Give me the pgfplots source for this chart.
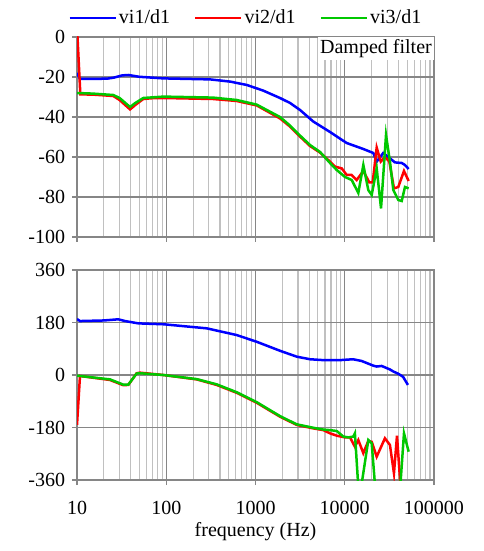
\documentclass[border=0pt]{standalone}
\usepackage{fontspec}
\setmainfont{Liberation Serif}
\usepackage{pgfplots}
\pgfplotsset{compat=1.18}
\definecolor{cblue}{RGB}{0,0,255}
\definecolor{cred}{RGB}{255,0,0}
\definecolor{cgreen}{RGB}{0,200,0}
\definecolor{gmaj}{RGB}{134,134,134}
\definecolor{gmin}{RGB}{192,192,192}
\begin{document}
\fontsize{20}{24}\selectfont
\begin{tikzpicture}
\path (0pt,0pt) rectangle (483pt,551pt);
% ---------------- top: magnitude ----------------
\begin{axis}[
  xmode=log, xmin=10, xmax=100000,
  scale only axis, width=357pt, height=200pt,
  at={(77pt,314pt)}, anchor=south west,
  grid=both,
  major grid style={gmaj, line width=1.2pt},
  minor grid style={gmin, line width=1.2pt},
  axis line style={gmaj, line width=1.2pt},
  tick style={gmaj, line width=1.2pt},
  tick align=outside, major tick length=5pt, minor tick length=0pt,
  xtick pos=bottom, ytick pos=left,
  xtick={10,100,1000,10000,100000},
  tick label style={font=\fontsize{20}{24}\selectfont, text=black},
  ymin=-100, ymax=0,
  ytick={-100,-80,-60,-40,-20,0},
  yticklabels={-100,-80,-60,-40,-20,0},
  xticklabels={},
  legend columns=3,
  legend style={at={(0.473,1.095)}, anchor=center, draw=none, fill=none,
    font=\fontsize{20}{24}\selectfont,
    /tikz/every even column/.append style={column sep=22pt}},
  legend image code/.code={\draw[#1] (0pt,0pt) -- (46pt,0pt);},
]
\addplot[cblue, line width=2.5pt] coordinates {
(10,-18) (10.8,-21) (15,-21) (22,-20.8) (26,-20.3) (32,-19.2) (37.6,-19)
(50,-19.9) (93,-20.7) (310,-21.2) (520,-22.3) (800,-24) (1220,-26.8)
(1880,-30.5) (2440,-33) (3155,-36.5) (4450,-42.3) (6840,-47.5) (10500,-53)
(16150,-56) (20900,-58) (22800,-62.3) (27000,-58) (32100,-60.7) (36500,-62.7)
(43500,-63) (47300,-64) (52000,-66)
};
\addlegendentry{vi1/d1}
\addplot[cred, line width=2.5pt] coordinates {
(10,5) (10.9,-28.7) (15,-28.8) (25.5,-29.5) (30,-31.5) (39.3,-36.2) (45,-34)
(55.3,-31) (70,-30.6) (93,-30.5) (334,-31) (615,-32) (1030,-34.2) (1880,-40.7)
(2440,-44.8) (3155,-49.8) (4080,-54.5) (5290,-57.8) (6840,-62.3) (7780,-64.8)
(9250,-65.7) (10520,-69) (11970,-69) (13610,-71.5) (16150,-67) (18850,-72.7)
(20560,-72.7) (22800,-55.3) (25300,-62.3) (28200,-60) (31600,-62.3)
(35600,-75.7) (39800,-75) (46100,-67) (52000,-72)
};
\addlegendentry{vi2/d1}
\addplot[cgreen, line width=2.5pt] coordinates {
(10,-28) (15,-28.3) (25.5,-29) (30,-30.5) (39.3,-35) (45,-33) (55.3,-30.5)
(93,-29.8) (334,-30.3) (615,-31.5) (1030,-33.8) (1880,-40) (2440,-44.3)
(3155,-49.3) (4080,-54) (5290,-57.5) (6840,-63) (8130,-66.5) (10070,-70)
(11970,-71.5) (14190,-78) (16150,-64) (18370,-76.5) (20040,-79) (22800,-65.7)
(25500,-85.7) (29000,-49) (32100,-62.3) (35000,-76.5) (39800,-81.5)
(43500,-82) (47300,-75) (52000,-75.7)
};
\addlegendentry{vi3/d1}
\node[anchor=north east, fill=white, inner sep=2pt, font=\fontsize{20}{24}\selectfont]
  at (rel axis cs:1,1) {Damped filter};
\end{axis}
% ---------------- bottom: phase ----------------
\begin{axis}[
  xmode=log, xmin=10, xmax=100000,
  scale only axis, width=357pt, height=210pt,
  at={(77pt,71pt)}, anchor=south west,
  grid=both,
  major grid style={gmaj, line width=1.2pt},
  minor grid style={gmin, line width=1.2pt},
  axis line style={gmaj, line width=1.2pt},
  tick style={gmaj, line width=1.2pt},
  tick align=outside, major tick length=5pt, minor tick length=0pt,
  xtick pos=bottom, ytick pos=left,
  xtick={10,100,1000,10000,100000},
  tick label style={font=\fontsize{20}{24}\selectfont, text=black},
  every x tick label/.append style={yshift=-9pt},
  ymin=-360, ymax=360,
  ytick={-360,-180,0,180,360},
  yticklabels={-360,-180,0,180,360},
  xticklabels={10,100,1000,10000,100000},
  xlabel={frequency (Hz)},
  xlabel style={font=\fontsize{20}{24}\selectfont, at={(axis description cs:0.5,0)}, anchor=center, yshift=-52pt},
]
\addplot[cblue, line width=2.5pt] coordinates {
(10,192) (10.8,185) (20,187) (29,191) (34.5,185) (48.7,177) (92.7,174)
(284,160) (615,137) (1030,114) (1884,83) (2890,63) (4080,54) (5760,51)
(8850,51) (12400,54) (15500,48) (20900,32) (22800,29) (25900,31) (32100,19)
(35000,12) (39400,5) (45000,-6) (51000,-34)
};
\addplot[cred, line width=2.5pt] coordinates {
(10,-171) (10.8,-3.4) (23.4,-17) (33,-35) (37.6,-34) (46.6,6) (50.8,8)
(92.7,0) (219,-15) (367,-34) (615,-61) (1030,-95) (1884,-143) (2890,-171)
(4450,-183) (5760,-189) (6840,-200) (8130,-208) (10070,-214) (11460,-214)
(13000,-246) (14190,-223) (16150,-268) (18370,-226) (20040,-229)
(22800,-280) (28200,-217) (32100,-240) (35600,-337) (38500,-208) (43000,-420)
};
\addplot[cgreen, line width=2.5pt] coordinates {
(10,-2.3) (23.4,-15) (33,-33) (37.6,-33) (46.6,5) (50.8,6) (92.7,0)
(219,-14) (367,-32) (615,-59) (1030,-93) (1884,-141) (2890,-169) (4450,-181)
(5760,-187) (6840,-189) (8130,-192) (9640,-211) (11000,-214) (12500,-211)
(13000,-200) (14500,-430) (18370,-223) (20040,-234) (22800,-450)
(41500,-400) (46100,-200) (52000,-263)
};
\end{axis}
\end{tikzpicture}
\end{document}
